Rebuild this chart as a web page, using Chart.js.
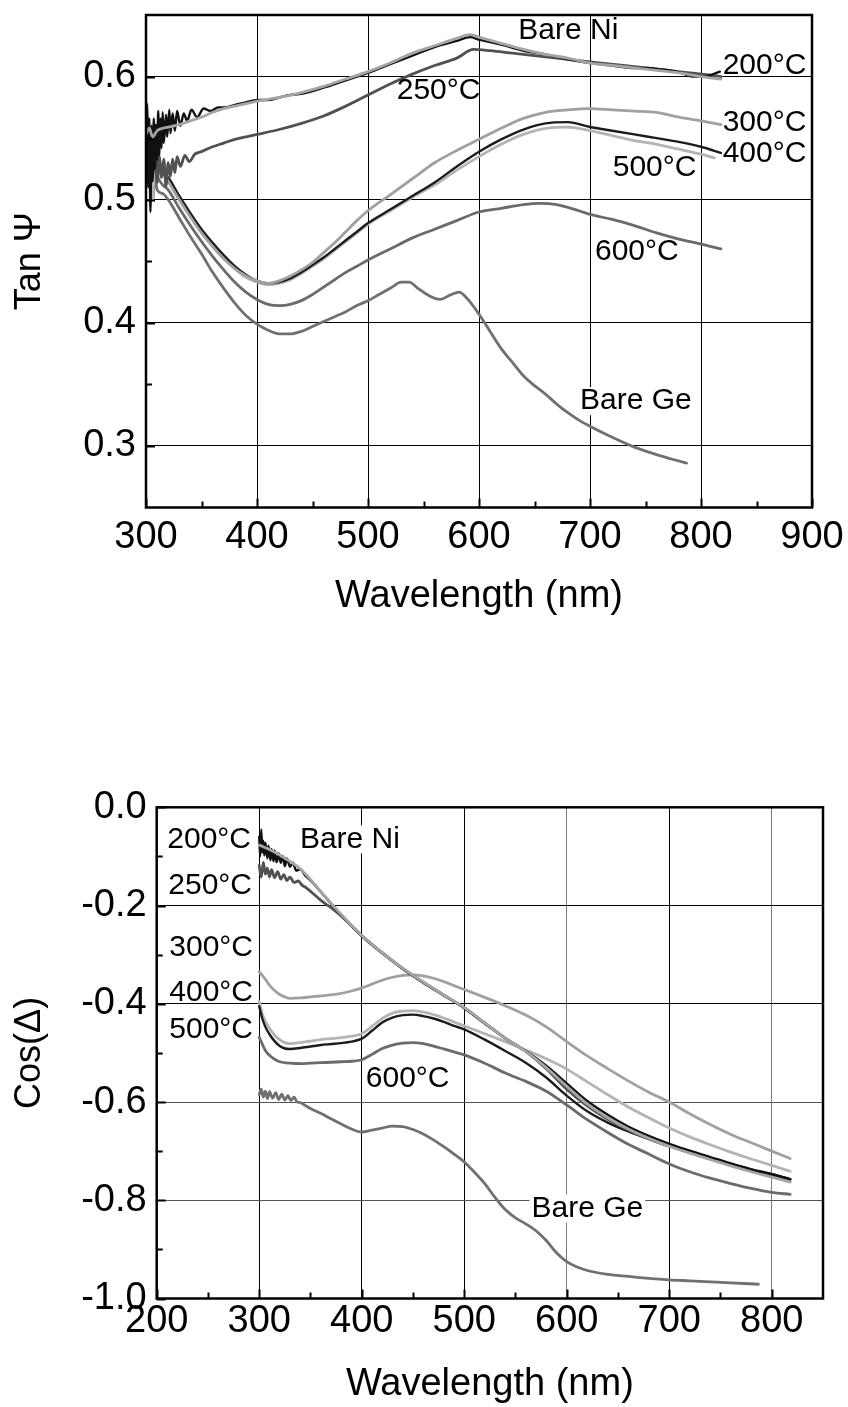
<!DOCTYPE html>
<html>
<head>
<meta charset="utf-8">
<script src="https://cdn.jsdelivr.net/npm/chart.js@4.4.1/dist/chart.umd.min.js"></script>
<style>
  html, body { margin: 0; padding: 0; background: #fff; }
  #wrap { position: relative; width: 848px; height: 1407px; }
  canvas { position: absolute; left: 0; }
  #tanCanvas { top: 0; }
  #cosCanvas { top: 700px; }
</style>
</head>
<body>
<div id="wrap">
  <canvas id="tanCanvas" width="848" height="700"></canvas>
  <canvas id="cosCanvas" width="848" height="707"></canvas>
</div>
<script>
// ---------- Tan(Psi) spectra: [wavelength nm, tan Psi] ----------
const tanBareNi = [[300,0.553],[303,0.558],[306,0.551],[310,0.556],[315,0.558],[320,0.559],[330,0.561],[340,0.564],[350,0.567],[360,0.571],[370,0.574],[380,0.576],[390,0.578],[400,0.580],[420,0.583],[440,0.587],[460,0.592],[480,0.598],[500,0.604],[520,0.611],[540,0.619],[560,0.625],[580,0.631],[592,0.634],[600,0.632],[620,0.627],[640,0.622],[660,0.618],[680,0.615],[700,0.611],[720,0.609],[740,0.607],[760,0.605],[780,0.603],[800,0.600],[818,0.598]];
const tan200 = [[300,0.548],[301,0.578],[302,0.51],[303,0.566],[304,0.49],[305,0.56],[306,0.515],[307,0.566],[308,0.525],[309,0.561],[310,0.532],[311,0.572],[312,0.536],[313,0.566],[314,0.542],[315,0.571],[316,0.546],[318,0.569],[319,0.551],[321,0.573],[322,0.554],[324,0.57],[326,0.556],[328,0.572],[331,0.56],[334,0.57],[337,0.564],[341,0.573],[346,0.567],[352,0.574],[358,0.572],[365,0.575],[372,0.575],[380,0.577],[390,0.579],[400,0.581],[410,0.581],[420,0.583],[430,0.585],[440,0.586],[460,0.591],[480,0.597],[500,0.603],[520,0.610],[540,0.617],[560,0.624],[580,0.629],[592,0.632],[600,0.630],[620,0.626],[640,0.621],[660,0.618],[680,0.614],[700,0.611],[720,0.609],[740,0.607],[752,0.607],[762,0.606],[772,0.605],[782,0.603],[792,0.600],[800,0.600],[808,0.601],[817,0.604]];
const tan250 = [[300,0.556],[302,0.535],[304,0.55],[306,0.52],[308,0.54],[310,0.514],[312,0.535],[314,0.518],[316,0.533],[318,0.511],[320,0.53],[322,0.519],[324,0.533],[326,0.522],[328,0.535],[331,0.527],[335,0.536],[339,0.531],[344,0.537],[350,0.539],[360,0.543],[370,0.546],[380,0.549],[390,0.551],[400,0.553],[420,0.557],[440,0.562],[460,0.568],[480,0.576],[500,0.585],[520,0.594],[540,0.602],[560,0.609],[580,0.615],[595,0.622],[610,0.621],[630,0.619],[650,0.617],[670,0.615],[690,0.613],[710,0.611],[730,0.609],[750,0.607],[770,0.605],[790,0.603],[810,0.601],[818,0.600]];
const tan300 = [[300,0.562],[302,0.54],[304,0.556],[306,0.535],[308,0.545],[310,0.535],[315,0.525],[320,0.515],[330,0.5],[340,0.486],[350,0.473],[360,0.462],[370,0.452],[380,0.444],[390,0.438],[400,0.434],[410,0.432],[420,0.434],[430,0.438],[440,0.443],[450,0.449],[460,0.457],[470,0.465],[480,0.474],[490,0.483],[500,0.491],[520,0.504],[540,0.517],[560,0.530],[580,0.540],[600,0.549],[620,0.558],[640,0.566],[660,0.571],[680,0.573],[700,0.574],[720,0.573],[740,0.572],[760,0.571],[780,0.567],[800,0.564],[818,0.561]];
const tan400 = [[300,0.55],[302,0.53],[304,0.548],[306,0.525],[308,0.538],[310,0.53],[315,0.522],[320,0.518],[330,0.503],[340,0.489],[350,0.476],[360,0.465],[370,0.455],[380,0.446],[390,0.439],[400,0.434],[410,0.432],[420,0.433],[430,0.436],[440,0.441],[450,0.447],[460,0.453],[470,0.46],[480,0.467],[490,0.474],[500,0.481],[520,0.492],[540,0.503],[560,0.514],[580,0.527],[600,0.539],[620,0.549],[640,0.557],[660,0.562],[680,0.563],[700,0.559],[720,0.556],[740,0.553],[760,0.550],[780,0.547],[800,0.543],[818,0.538]];
const tan500 = [[300,0.545],[302,0.52],[304,0.54],[306,0.5],[308,0.535],[310,0.525],[315,0.52],[320,0.516],[330,0.5],[340,0.487],[350,0.474],[360,0.463],[370,0.453],[380,0.444],[390,0.437],[400,0.433],[410,0.431],[420,0.432],[430,0.435],[440,0.44],[450,0.446],[460,0.452],[470,0.459],[480,0.466],[490,0.473],[500,0.48],[520,0.491],[540,0.502],[560,0.512],[580,0.524],[600,0.535],[620,0.545],[640,0.553],[660,0.558],[680,0.559],[700,0.556],[720,0.552],[740,0.548],[760,0.545],[780,0.541],[800,0.537],[812,0.534]];
const tan600 = [[300,0.552],[302,0.53],[304,0.545],[306,0.51],[308,0.53],[310,0.52],[315,0.512],[320,0.508],[330,0.493],[340,0.479],[350,0.466],[360,0.454],[370,0.443],[380,0.433],[390,0.425],[400,0.419],[410,0.415],[420,0.414],[430,0.415],[440,0.418],[450,0.423],[460,0.429],[470,0.435],[480,0.441],[490,0.446],[500,0.451],[520,0.46],[540,0.469],[560,0.476],[580,0.483],[600,0.490],[620,0.493],[640,0.496],[655,0.497],[670,0.496],[690,0.491],[700,0.488],[720,0.484],[740,0.479],[760,0.473],[780,0.468],[800,0.464],[818,0.460]];
const tanBareGe = [[300,0.548],[302,0.525],[304,0.54],[306,0.5],[308,0.52],[310,0.508],[315,0.505],[320,0.5],[330,0.485],[340,0.47],[350,0.456],[360,0.441],[370,0.428],[380,0.416],[390,0.406],[400,0.399],[410,0.394],[420,0.391],[430,0.391],[440,0.393],[450,0.397],[460,0.401],[470,0.405],[480,0.409],[490,0.414],[500,0.418],[510,0.423],[520,0.428],[530,0.433],[537,0.433],[545,0.428],[555,0.422],[565,0.419],[575,0.423],[582,0.425],[590,0.419],[600,0.407],[610,0.393],[620,0.379],[630,0.368],[640,0.357],[650,0.349],[660,0.342],[670,0.334],[680,0.327],[690,0.321],[700,0.316],[720,0.307],[740,0.299],[760,0.293],[775,0.289],[787,0.286]];

// ---------- Cos(Delta) spectra: [wavelength nm, cos Delta] ----------
const cosBareNi = [[300,-0.077],[310,-0.086],[320,-0.097],[330,-0.11],[340,-0.125],[350,-0.147],[360,-0.171],[370,-0.195],[380,-0.218],[390,-0.24],[400,-0.261],[420,-0.296],[440,-0.328],[460,-0.356],[480,-0.382],[500,-0.408],[520,-0.439],[540,-0.47],[560,-0.497],[580,-0.53],[600,-0.568],[620,-0.604],[640,-0.632],[660,-0.655],[680,-0.674],[700,-0.69],[720,-0.704],[740,-0.717],[760,-0.73],[780,-0.742],[800,-0.753],[818,-0.763]];
const cos200 = [[300,-0.06],[301,-0.1],[302,-0.045],[303,-0.092],[304,-0.068],[305,-0.098],[306,-0.072],[308,-0.104],[309,-0.078],[311,-0.108],[312,-0.085],[314,-0.11],[315,-0.088],[317,-0.112],[319,-0.094],[321,-0.113],[323,-0.099],[325,-0.12],[327,-0.104],[330,-0.121],[333,-0.113],[336,-0.129],[340,-0.126],[345,-0.139],[350,-0.149],[355,-0.16],[360,-0.172],[370,-0.196],[380,-0.219],[390,-0.241],[400,-0.262],[420,-0.297],[440,-0.329],[460,-0.357],[480,-0.383],[500,-0.409],[520,-0.44],[540,-0.47],[560,-0.496],[580,-0.526],[600,-0.562],[620,-0.598],[640,-0.626],[660,-0.65],[680,-0.669],[700,-0.685],[720,-0.699],[740,-0.712],[760,-0.725],[780,-0.737],[800,-0.747],[818,-0.757]];
const cos250 = [[300,-0.118],[302,-0.142],[304,-0.112],[306,-0.136],[308,-0.124],[310,-0.142],[312,-0.127],[315,-0.143],[318,-0.131],[321,-0.146],[324,-0.137],[327,-0.149],[330,-0.142],[334,-0.153],[338,-0.15],[342,-0.159],[346,-0.164],[350,-0.171],[355,-0.18],[360,-0.189],[365,-0.197],[370,-0.204],[380,-0.221],[390,-0.241],[400,-0.261],[420,-0.296],[440,-0.328],[460,-0.356],[480,-0.382],[500,-0.408],[520,-0.439],[540,-0.47],[560,-0.497],[580,-0.532],[600,-0.574],[620,-0.608],[640,-0.635],[660,-0.657],[680,-0.675],[700,-0.69],[720,-0.703],[740,-0.716],[760,-0.728],[780,-0.739],[800,-0.749],[818,-0.758]];
const cos300 = [[300,-0.335],[303,-0.342],[306,-0.35],[310,-0.362],[315,-0.373],[320,-0.381],[325,-0.386],[330,-0.389],[340,-0.388],[350,-0.386],[360,-0.384],[370,-0.382],[380,-0.379],[390,-0.374],[400,-0.368],[410,-0.36],[420,-0.352],[430,-0.346],[440,-0.342],[450,-0.341],[460,-0.343],[470,-0.348],[480,-0.355],[490,-0.363],[500,-0.371],[520,-0.387],[540,-0.404],[560,-0.423],[580,-0.447],[600,-0.477],[620,-0.506],[640,-0.532],[660,-0.557],[680,-0.58],[700,-0.6],[720,-0.624],[740,-0.646],[760,-0.666],[780,-0.683],[800,-0.7],[818,-0.715]];
const cos400 = [[300,-0.405],[303,-0.43],[306,-0.447],[310,-0.462],[315,-0.476],[320,-0.486],[325,-0.491],[330,-0.492],[340,-0.49],[350,-0.487],[360,-0.484],[370,-0.482],[380,-0.48],[390,-0.477],[400,-0.471],[410,-0.455],[420,-0.438],[430,-0.428],[440,-0.423],[450,-0.422],[460,-0.425],[470,-0.43],[480,-0.437],[490,-0.445],[500,-0.452],[520,-0.473],[540,-0.496],[560,-0.52],[580,-0.55],[600,-0.587],[620,-0.619],[640,-0.642],[660,-0.66],[680,-0.675],[700,-0.688],[720,-0.701],[740,-0.714],[760,-0.726],[780,-0.737],[800,-0.747],[818,-0.757]];
const cos500 = [[300,-0.395],[303,-0.42],[306,-0.436],[310,-0.45],[315,-0.464],[320,-0.473],[325,-0.479],[330,-0.481],[340,-0.479],[350,-0.476],[360,-0.473],[370,-0.471],[380,-0.469],[390,-0.466],[400,-0.461],[410,-0.446],[420,-0.43],[430,-0.419],[440,-0.415],[450,-0.414],[460,-0.417],[470,-0.422],[480,-0.429],[490,-0.437],[500,-0.445],[520,-0.461],[540,-0.477],[560,-0.494],[580,-0.512],[600,-0.533],[620,-0.559],[640,-0.585],[660,-0.61],[680,-0.632],[700,-0.653],[720,-0.671],[740,-0.687],[760,-0.702],[780,-0.716],[800,-0.729],[818,-0.741]];
const cos600 = [[300,-0.468],[303,-0.482],[306,-0.495],[310,-0.505],[315,-0.513],[320,-0.518],[330,-0.521],[340,-0.522],[350,-0.521],[360,-0.52],[370,-0.519],[380,-0.518],[390,-0.517],[400,-0.514],[410,-0.503],[420,-0.491],[430,-0.484],[440,-0.48],[450,-0.479],[460,-0.481],[470,-0.486],[480,-0.492],[490,-0.498],[500,-0.504],[520,-0.521],[540,-0.541],[560,-0.558],[580,-0.578],[600,-0.606],[620,-0.636],[640,-0.662],[660,-0.686],[680,-0.706],[700,-0.726],[720,-0.742],[740,-0.755],[760,-0.766],[780,-0.776],[800,-0.784],[818,-0.788]];
const cosBareGe = [[300,-0.585],[302,-0.574],[304,-0.59],[306,-0.578],[308,-0.593],[310,-0.579],[313,-0.592],[316,-0.581],[319,-0.595],[322,-0.584],[325,-0.596],[328,-0.587],[331,-0.597],[334,-0.59],[337,-0.6],[340,-0.601],[345,-0.607],[350,-0.613],[360,-0.623],[370,-0.634],[380,-0.645],[390,-0.655],[400,-0.661],[410,-0.657],[420,-0.653],[430,-0.649],[440,-0.65],[450,-0.656],[460,-0.665],[470,-0.677],[480,-0.691],[490,-0.706],[500,-0.722],[510,-0.743],[520,-0.766],[530,-0.794],[540,-0.819],[550,-0.836],[560,-0.848],[570,-0.862],[580,-0.882],[590,-0.907],[600,-0.925],[610,-0.936],[620,-0.943],[640,-0.951],[660,-0.955],[680,-0.959],[700,-0.962],[720,-0.964],[740,-0.966],[760,-0.968],[787,-0.971]];

// ---------- axis ticks ----------
const tanXTicks = [300, 400, 500, 600, 700, 800, 900];
const tanXMinor = [350, 450, 550, 650, 750, 850];
const tanYTicks = [0.3, 0.4, 0.5, 0.6];
const tanYMinor = [0.35, 0.45, 0.55];
const cosXTicks = [200, 300, 400, 500, 600, 700, 800];
const cosXMinor = [250, 350, 450, 550, 650, 750];
const cosYTicks = [0.0, -0.2, -0.4, -0.6, -0.8, -1.0];
const cosYMinor = [-0.1, -0.3, -0.5, -0.7, -0.9];

// ---------- curve annotations (anchored in data units) ----------
const tanNotes = [
  { text: 'Bare Ni', at: [635.4, 0.6370] },
  { text: '200°C',   at: [819.5, 0.6085] },
  { text: '250°C',   at: [525.9, 0.5882] },
  { text: '300°C',   at: [819.5, 0.5625] },
  { text: '400°C',   at: [819.5, 0.5374] },
  { text: '500°C',   at: [720.5, 0.5259] },
  { text: '600°C',   at: [704.5, 0.4576] },
  { text: 'Bare Ge', at: [691.0, 0.3364], boxed: true }
];
const cosNotes = [
  { text: '200°C',   at: [210.3, -0.0651] },
  { text: 'Bare Ni', at: [339.7, -0.0651], boxed: true },
  { text: '250°C',   at: [211.3, -0.1596] },
  { text: '300°C',   at: [212.3, -0.2858] },
  { text: '400°C',   at: [212.3, -0.3774] },
  { text: '500°C',   at: [212.3, -0.4538] },
  { text: '600°C',   at: [404.0, -0.5521], boxed: true },
  { text: 'Bare Ge', at: [565.6, -0.8168], boxed: true }
];

const FONT = "'Liberation Sans', Arial, Helvetica, sans-serif";
Chart.defaults.font.family = FONT;
Chart.defaults.color = '#000';

const seriesStyle = [
  { name: 'Bare Ni', color: '#a5a5a5', width: 2.8, order: 1 },
  { name: '200°C',   color: '#111111', width: 2.4, order: 2 },
  { name: '250°C',   color: '#515151', width: 2.8, order: 3 },
  { name: '300°C',   color: '#a0a0a0', width: 2.8, order: 4 },
  { name: '400°C',   color: '#1c1c1c', width: 2.4, order: 5 },
  { name: '500°C',   color: '#b4b4b4', width: 2.8, order: 6 },
  { name: '600°C',   color: '#6b6b6b', width: 2.8, order: 7 },
  { name: 'Bare Ge', color: '#707070', width: 2.8, order: 8 }
];

function toPoints(pairs) { return pairs.map(p => ({ x: p[0], y: p[1] })); }

function buildDatasets(seriesList) {
  return seriesList.map((pairs, i) => ({
    label: seriesStyle[i].name,
    data: toPoints(pairs),
    borderColor: seriesStyle[i].color,
    borderWidth: seriesStyle[i].width,
    order: seriesStyle[i].order,
    pointRadius: 0,
    fill: false,
    cubicInterpolationMode: 'monotone',
    borderJoinStyle: 'round',
    borderCapStyle: 'round'
  }));
}

// frame, inward tick marks and curve annotations
const decorations = {
  id: 'decorations',
  afterDatasetsDraw(chart, args, opts) {
    const { ctx, chartArea: a } = chart;
    const xs = chart.scales.x, ys = chart.scales.y;
    ctx.save();

    // annotations
    ctx.font = opts.noteSize + 'px ' + FONT;
    ctx.textBaseline = 'middle';
    ctx.textAlign = 'left';
    for (const n of opts.notes) {
      const px = xs.getPixelForValue(n.at[0]);
      const py = ys.getPixelForValue(n.at[1]);
      if (n.boxed) {
        const w = ctx.measureText(n.text).width;
        ctx.fillStyle = '#fff';
        ctx.fillRect(px - 2, py - opts.noteSize * 0.47, w + 4, opts.noteSize * 0.94);
      }
      ctx.fillStyle = '#000';
      ctx.fillText(n.text, px, py);
    }

    // inward ticks on the left and bottom axes
    ctx.strokeStyle = '#000';
    ctx.lineWidth = 2;
    ctx.beginPath();
    const tick = (vals, len, horizontal) => {
      for (const v of vals) {
        if (horizontal) {
          const px = Math.round(xs.getPixelForValue(v)) + 0.5;
          ctx.moveTo(px, a.bottom);
          ctx.lineTo(px, a.bottom - len);
        } else {
          const py = Math.round(ys.getPixelForValue(v)) + 0.5;
          ctx.moveTo(a.left, py);
          ctx.lineTo(a.left + len, py);
        }
      }
    };
    tick(opts.xMajor, 9, true);
    tick(opts.xMinor, 6, true);
    tick(opts.yMajor, 9, false);
    tick(opts.yMinor, 6, false);
    ctx.stroke();

    // full frame
    ctx.lineWidth = opts.frameWidth;
    ctx.strokeRect(a.left, a.top, a.right - a.left, a.bottom - a.top);
    ctx.restore();
  }
};

function makeChart(canvasId, cfg) {
  return new Chart(document.getElementById(canvasId), {
    type: 'line',
    data: { datasets: buildDatasets(cfg.series) },
    options: {
      responsive: false,
      animation: false,
      devicePixelRatio: 1,
      events: [],
      layout: { padding: cfg.padding },
      plugins: {
        legend: { display: false },
        tooltip: { enabled: false },
        decorations: {
          notes: cfg.notes, noteSize: 30, frameWidth: 2.5,
          xMajor: cfg.xTicks, xMinor: cfg.xMinor, yMajor: cfg.yTicks, yMinor: cfg.yMinor
        }
      },
      scales: {
        x: {
          type: 'linear',
          min: cfg.xMin, max: cfg.xMax,
          afterBuildTicks: s => { s.ticks = cfg.xTicks.map(v => ({ value: v })); },
          afterFit: s => { s.height = cfg.xHeight; s.paddingLeft = 0; s.paddingRight = 0; },
          ticks: {
            font: { size: 38 }, color: '#000', padding: cfg.xTickPad,
            maxRotation: 0, autoSkip: false,
            callback: v => String(v)
          },
          grid: { color: cfg.xGridColor, lineWidth: 1, drawTicks: false },
          border: { display: false },
          title: {
            display: true, text: 'Wavelength (nm)', color: '#000',
            font: { size: 38 }, padding: { top: 0, bottom: cfg.xTitlePad }
          }
        },
        y: {
          type: 'linear',
          min: cfg.yMin, max: cfg.yMax,
          afterBuildTicks: s => { s.ticks = cfg.yTicks.map(v => ({ value: v })); },
          afterFit: s => { s.width = cfg.yWidth; s.paddingTop = 0; s.paddingBottom = 0; },
          ticks: {
            font: { size: 38 }, color: '#000', padding: 10,
            autoSkip: false,
            callback: v => (Math.abs(v) < 1e-9 ? 0 : v).toFixed(1)
          },
          grid: { color: cfg.yGridColor, lineWidth: 1, drawTicks: false },
          border: { display: false },
          title: {
            display: true, text: cfg.yTitle, color: '#000',
            font: { size: 36 }, padding: { top: 8, bottom: 0 }
          }
        }
      }
    },
    plugins: [decorations]
  });
}

// upper panel: Tan(Psi)
makeChart('tanCanvas', {
  series: [tanBareNi, tan200, tan250, tan300, tan400, tan500, tan600, tanBareGe],
  notes: tanNotes,
  xMin: 300, xMax: 900, yMin: 0.25, yMax: 0.65,
  xTicks: tanXTicks, xMinor: tanXMinor, yTicks: tanYTicks, yMinor: tanYMinor,
  padding: { left: 0, right: 36, top: 15, bottom: 0 },
  yWidth: 146, xHeight: 192.5,
  xTickPad: 7, xTitlePad: 81,
  yTitle: 'Tan Ψ',
  xGridColor: '#000', yGridColor: '#000'
});

// lower panel: Cos(Delta)
makeChart('cosCanvas', {
  series: [cosBareNi, cos200, cos250, cos300, cos400, cos500, cos600, cosBareGe],
  notes: cosNotes,
  xMin: 200, xMax: 850, yMin: -1.0, yMax: 0.0,
  xTicks: cosXTicks, xMinor: cosXMinor, yTicks: cosYTicks, yMinor: cosYMinor,
  padding: { left: 0, right: 25, top: 107.3, bottom: 0 },
  yWidth: 156.7, xHeight: 108.5,
  xTickPad: 0, xTitlePad: 0,
  yTitle: 'Cos(Δ)',
  xGridColor: c => (c.tick && (c.tick.value === 600 || c.tick.value === 800)) ? '#7a7a7a' : '#000',
  yGridColor: c => (c.tick && (c.tick.value === -0.6 || c.tick.value === -0.8)) ? '#555' : '#000'
});
</script>
</body>
</html>
